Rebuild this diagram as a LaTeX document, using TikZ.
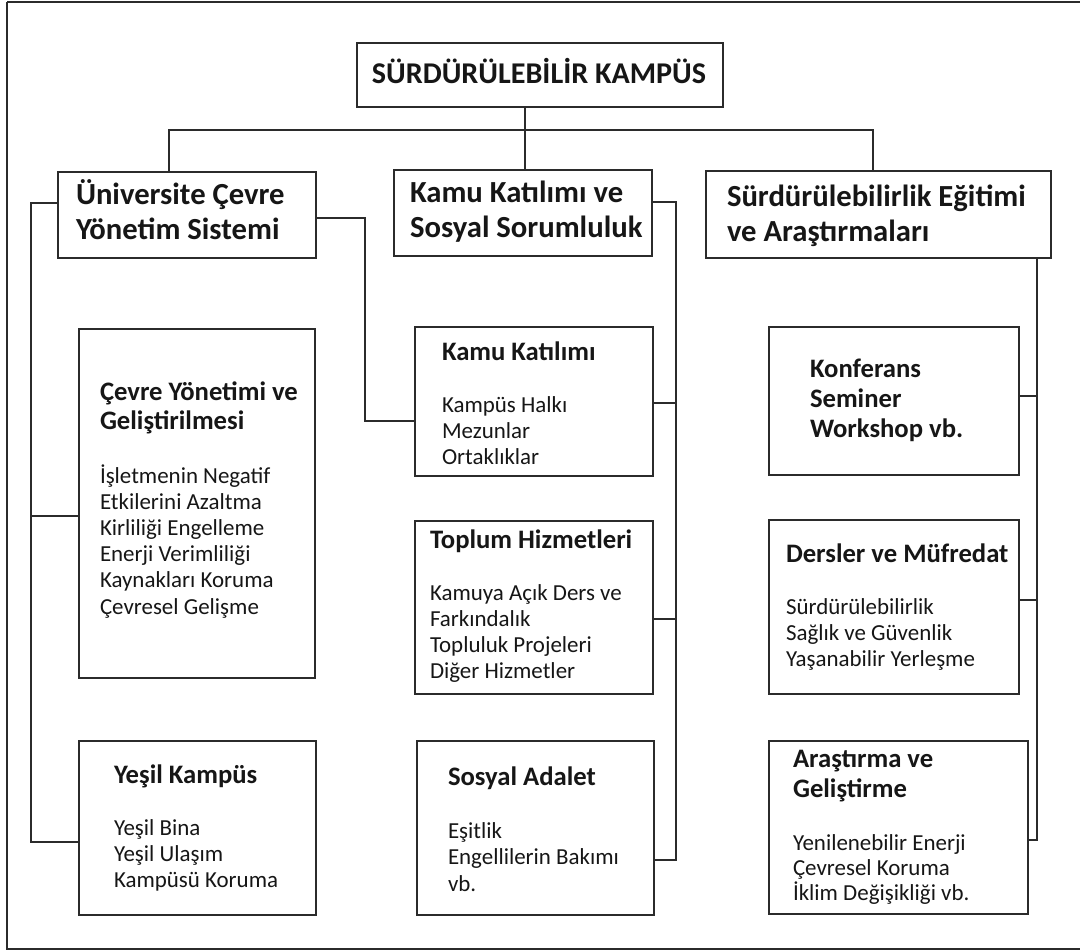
\documentclass[tikz,border=0pt]{standalone}
\usepackage{fontspec}
\setmainfont{Carlito}
\definecolor{linec}{HTML}{2B2B2B}
\definecolor{inkc}{HTML}{161616}
% stacked lines, the block's baseline is that of its first line
\newcommand\blk[2]{\vtop{\baselineskip=#1\relax\lineskip=0pt\lineskiplimit=-100pt\halign{##\hfil\cr#2\crcr}}}
\newcommand\fbody{\fontsize{17.2}{20}\selectfont}
\newcommand\fhead{\bfseries\fontsize{20}{22}\selectfont}
\newcommand\ftop{\bfseries\fontsize{23}{27}\selectfont}
\newcommand\froot{\bfseries\fontsize{22.6}{28}\selectfont}
\begin{document}
\begin{tikzpicture}[x=0.75pt,y=-0.75pt,
  box/.style={draw=linec, line width=1.5pt, inner sep=0pt, anchor=north west, fill=white},
  wire/.style={draw=linec, line width=1.5pt},
  txt/.style={anchor=base west, inner sep=0pt, outer sep=0pt, text=inkc},
  frame/.style={draw=linec, line width=1.6pt}]
\useasboundingbox (0,0) rectangle (1080,951);
\fill[white] (0,0) rectangle (1080,951);
\draw[frame] (7,2) -- (1090,2) (7,2) -- (7,949) -- (1090,949);

% boxes
\node[box, minimum width=366*0.75pt, minimum height=64*0.75pt] (root) at (356,42) {};
\node[box, minimum width=258*0.75pt, minimum height=86*0.75pt] (A) at (57,171) {};
\node[box, minimum width=258*0.75pt, minimum height=86*0.75pt] (B) at (393,169) {};
\node[box, minimum width=345*0.75pt, minimum height=87*0.75pt] (C) at (705,170) {};
\node[box, minimum width=236*0.75pt, minimum height=349*0.75pt] (cy) at (78,328) {};
\node[box, minimum width=237*0.75pt, minimum height=174*0.75pt] (yk) at (78,740) {};
\node[box, minimum width=238*0.75pt, minimum height=149*0.75pt] (kk) at (414,326) {};
\node[box, minimum width=238*0.75pt, minimum height=173*0.75pt] (th) at (414,520) {};
\node[box, minimum width=237*0.75pt, minimum height=174*0.75pt] (sa) at (416,740) {};
\node[box, minimum width=250*0.75pt, minimum height=148*0.75pt] (kf) at (768,326) {};
\node[box, minimum width=250*0.75pt, minimum height=174*0.75pt] (dm) at (768,519) {};
\node[box, minimum width=259*0.75pt, minimum height=173*0.75pt] (ag) at (768,740) {};

% texts
\node[txt, anchor=base] (troot) at (539,83) {\froot SÜRDÜRÜLEBİLİR KAMPÜS};
\node[txt] (tA) at (76,204) {\ftop\blk{26.25pt}{Üniversite Çevre\cr Yönetim Sistemi}};
\node[txt] (tB) at (410,202) {\ftop\blk{26.25pt}{Kamu Katılımı ve\cr Sosyal Sorumluluk}};
\node[txt] (tC) at (727,206) {\ftop\blk{26.6pt}{Sürdürülebilirlik Eğitimi\cr ve Araştırmaları}};

\node[txt] (hcy) at (100,400) {\fhead\blk{21.75pt}{Çevre Yönetimi ve\cr Geliştirilmesi}};
\node[txt] (bcy) at (100,483) {\fbody\blk{19.65pt}{İşletmenin Negatif\cr Etkilerini Azaltma\cr Kirliliği Engelleme\cr Enerji Verimliliği\cr Kaynakları Koruma\cr Çevresel Gelişme}};
\node[txt] (hyk) at (114,783) {\fhead Yeşil Kampüs};
\node[txt] (byk) at (114,835) {\fbody\blk{19.8pt}{Yeşil Bina\cr Yeşil Ulaşım\cr Kampüsü Koruma}};

\node[txt] (hkk) at (442,360) {\fhead Kamu Katılımı};
\node[txt] (bkk) at (442,412) {\fbody\blk{19.5pt}{Kampüs Halkı\cr Mezunlar\cr Ortaklıklar}};
\node[txt] (hth) at (430,548) {\fhead Toplum Hizmetleri};
\node[txt] (bth) at (430,600) {\fbody\blk{19.7pt}{Kamuya Açık Ders ve\cr Farkındalık\cr Topluluk Projeleri\cr Diğer Hizmetler}};
\node[txt] (hsa) at (448,785) {\fhead Sosyal Adalet};
\node[txt] (bsa) at (448,838) {\fbody\blk{20pt}{Eşitlik\cr Engellilerin Bakımı\cr vb.}};

\node[txt] (tkf) at (810,377) {\fhead\blk{22.5pt}{Konferans\cr Seminer\cr Workshop vb.}};
\node[txt] (hdm) at (786,562) {\fhead Dersler ve Müfredat};
\node[txt] (bdm) at (786,614) {\fbody\blk{19.5pt}{Sürdürülebilirlik\cr Sağlık ve Güvenlik\cr Yaşanabilir Yerleşme}};
\node[txt] (hag) at (793,767) {\fhead\blk{22.5pt}{Araştırma ve\cr Geliştirme}};
\node[txt] (bag) at (793,850) {\fbody\blk{19.1pt}{Yenilenebilir Enerji\cr Çevresel Koruma\cr İklim Değişikliği vb.}};

% top-level bus
\coordinate (busL) at (169,130);
\coordinate (busM) at (525,130);
\coordinate (busR) at (873,130);
\draw[wire] (busM |- root.south) -- (busM);
\draw[wire] (busL |- A.north) -- (busL) -- (busR) -- (busR |- C.north);
\draw[wire] (busM) -- (busM |- B.north);

% left branch
\coordinate (lA) at (31,203);
\coordinate (lB) at (31,842);
\coordinate (lC) at (31,516);
\draw[wire] (lA -| A.west) -- (lA) -- (lB) -- (lB -| yk.west);
\draw[wire] (lC) -- (lC -| cy.west);

% cross link to Kamu Katilimi
\coordinate (mA) at (365,218);
\coordinate (mB) at (365,421);
\draw[wire] (mA -| A.east) -- (mA) -- (mB) -- (mB -| kk.west);

% middle branch
\coordinate (rA) at (676,202);
\coordinate (rB) at (676,860);
\coordinate (rC) at (676,403);
\coordinate (rD) at (676,619);
\draw[wire] (rA -| B.east) -- (rA) -- (rB) -- (rB -| sa.east);
\draw[wire] (rC) -- (rC -| kk.east);
\draw[wire] (rD) -- (rD -| th.east);

% right branch
\coordinate (cA) at (1037,257);
\coordinate (cB) at (1037,840);
\coordinate (cC) at (1037,396);
\coordinate (cD) at (1037,600);
\draw[wire] (cA |- C.south) -- (cB) -- (cB -| ag.east);
\draw[wire] (cC) -- (cC -| kf.east);
\draw[wire] (cD) -- (cD -| dm.east);
\end{tikzpicture}
\end{document}
